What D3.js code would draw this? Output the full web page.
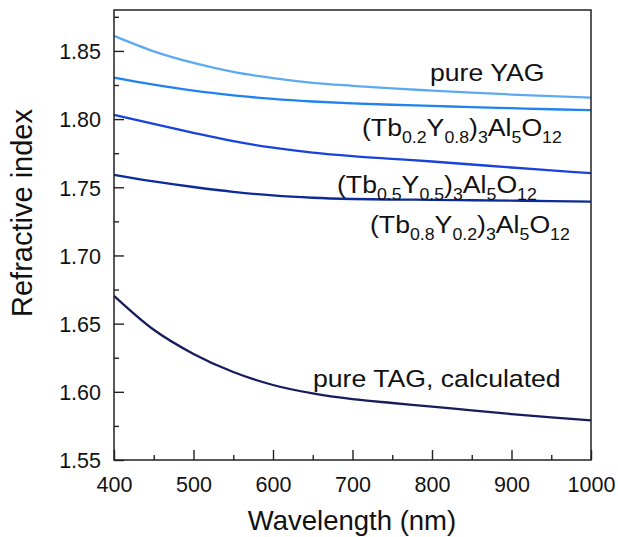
<!DOCTYPE html>
<html><head><meta charset="utf-8">
<script src="https://cdn.jsdelivr.net/npm/d3@7"></script>
<style>
html,body{margin:0;padding:0;background:#fff;}
svg{display:block;font-family:"Liberation Sans",Arial,sans-serif;}
</style></head>
<body><svg id="c" width="618" height="537"></svg>
<script>
const wavelength = [400,450,500,550,600,650,700,750,800,850,900,950,1000];
const pureYAG = [1.861,1.8497,1.8412,1.8346,1.8300,1.8266,1.8244,1.8225,1.8209,1.8194,1.8180,1.8168,1.8158];
const tb02 = [1.8304,1.8252,1.8208,1.8174,1.8148,1.8129,1.8115,1.8105,1.8097,1.8088,1.8080,1.8072,1.8065];
const tb05 = [1.8031,1.7965,1.7899,1.7838,1.7790,1.7754,1.7728,1.7708,1.7689,1.7667,1.7645,1.7624,1.7603];
const tb08 = [1.7591,1.7543,1.7502,1.7467,1.7440,1.7423,1.7414,1.7410,1.7408,1.7405,1.7402,1.7399,1.7395];
const pureTAG = [1.6704,1.6455,1.6278,1.6145,1.6050,1.5988,1.5946,1.5918,1.5892,1.5864,1.5837,1.5812,1.5790];
const xTicks = [400,500,600,700,800,900,1000];
const xMinor = [450,550,650,750,850,950];
const yTicks = [1.55,1.60,1.65,1.70,1.75,1.80,1.85];
const yMinor = [1.575,1.625,1.675,1.725,1.775,1.825,1.875];

const seriesNames = ["pure YAG","(Tb0.2Y0.8)3Al5O12","(Tb0.5Y0.5)3Al5O12","(Tb0.8Y0.2)3Al5O12","pure TAG, calculated"];
const seriesValues = [pureYAG,tb02,tb05,tb08,pureTAG];
const seriesColors = ["#5eaaf0","#1f82f0","#1743dc","#0c2a98","#161c5c"];
// label parts: [text, isSubscript]
const labelParts = [
  [["pure YAG",0]],
  [["(Tb",0],["0.2",1],["Y",0],["0.8",1],[")",0],["3",1],["Al",0],["5",1],["O",0],["12",1]],
  [["(Tb",0],["0.5",1],["Y",0],["0.5",1],[")",0],["3",1],["Al",0],["5",1],["O",0],["12",1]],
  [["(Tb",0],["0.8",1],["Y",0],["0.2",1],[")",0],["3",1],["Al",0],["5",1],["O",0],["12",1]],
  [["pure TAG, calculated",0]]
];
const labelPos = [[430,81],[362,136],[337,193],[370,233],[313,387]];

const svg = d3.select("#c");
const L=114, R=591, T=10, B=460;
const x = d3.scaleLinear().domain([400,1000]).range([L,R]);
const y = d3.scaleLinear().domain([1.55,1.88]).range([B,T]);

// curves
const line = d3.line().x(d=>x(d[0])).y(d=>y(d[1])).curve(d3.curveMonotoneX);
seriesValues.forEach((vals,i)=>{
  svg.append("path")
    .attr("d", line(wavelength.map((w,j)=>[w,vals[j]])))
    .attr("fill","none").attr("stroke",seriesColors[i]).attr("stroke-width",2.3);
});

// axes (ticks inward)
const xAxis = svg.append("g").attr("transform",`translate(0,${B})`)
  .call(d3.axisBottom(x).tickValues(xTicks).tickSize(-10).tickPadding(17).tickFormat(d3.format("d")));
svg.append("g").attr("transform",`translate(0,${B})`)
  .call(d3.axisBottom(x).tickValues(xMinor).tickSize(-5).tickFormat(""));
const yAxis = svg.append("g").attr("transform",`translate(${L},0)`)
  .call(d3.axisLeft(y).tickValues(yTicks).tickSize(-10).tickPadding(13).tickFormat(d3.format(".2f")));
svg.append("g").attr("transform",`translate(${L},0)`)
  .call(d3.axisLeft(y).tickValues(yMinor).tickSize(-5).tickFormat(""));
svg.selectAll(".domain").remove();
svg.selectAll(".tick line").attr("stroke","#222").attr("stroke-width",1.4);
svg.selectAll(".tick text").attr("font-size",21.5).attr("fill","#111")
  .attr("font-family","'Liberation Sans',Arial,sans-serif");
yAxis.selectAll(".tick text").attr("dy","0.36em");

// frame
svg.append("rect").attr("x",L).attr("y",T).attr("width",R-L).attr("height",B-T)
  .attr("fill","none").attr("stroke","#222").attr("stroke-width",1.5);

// axis titles
svg.append("text").attr("x",(L+R)/2-0.5).attr("y",530).attr("text-anchor","middle")
  .attr("font-size",27.5).attr("fill","#111").text("Wavelength (nm)");
svg.append("text").attr("transform","translate(32,213) rotate(-90)").attr("text-anchor","middle")
  .attr("font-size",29).attr("fill","#111").text("Refractive index");

// labels
labelParts.forEach((parts,i)=>{
  const t = svg.append("text").attr("transform",`translate(${labelPos[i][0]},${labelPos[i][1]}) scale(1.11,1)`)
    .attr("font-size",24).attr("fill","#111");
  let sub=false;
  parts.forEach(([s,isSub])=>{
    const ts = t.append("tspan").text(s);
    if(isSub && !sub){ ts.attr("dy",7).attr("font-size",16); sub=true; }
    else if(isSub){ ts.attr("font-size",16); }
    else if(!isSub && sub){ ts.attr("dy",-7); sub=false; }
  });
});
</script></body></html>
